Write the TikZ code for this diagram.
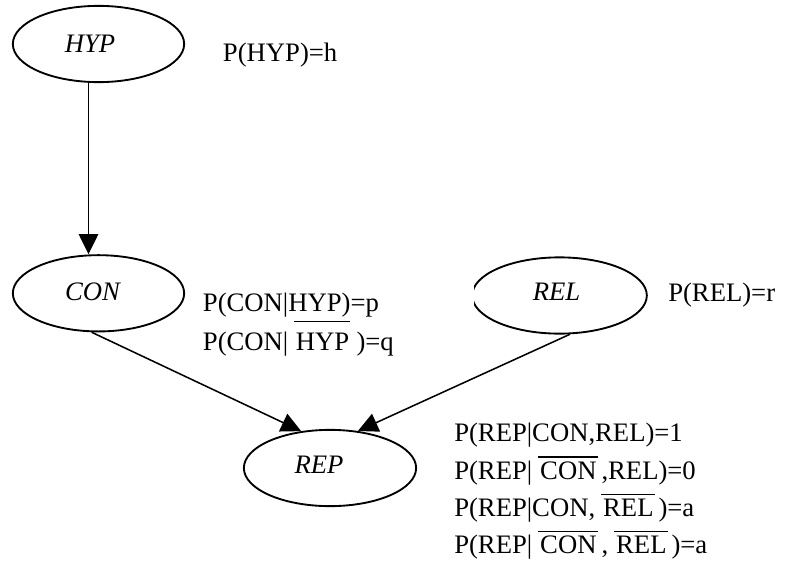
\documentclass[tikz,border=0pt]{standalone}
\usepackage{fontspec}
\setmainfont{Liberation Serif}
\usetikzlibrary{shapes.geometric,arrows.meta}

% \ovbar{kern before}{text}{kern after}{height of the bar above the baseline}
\newcommand\ovbar[4]{\kern#1\setbox0=\hbox{\kern1.5pt#2\kern1pt}%
  \rlap{\raise#4\hbox{\vrule width\wd0 height 0.8pt depth 0pt}}\box0\kern#3\relax}
\newcommand\negrep[1]{\ovbar{4.5pt}{#1}{2.75pt}{16.1pt}}

\begin{document}
\begin{tikzpicture}[x=0.75pt,y=-0.75pt,
  var/.style={ellipse,draw,line width=1.4pt,minimum width=128.5pt,
    minimum height=57.2pt,inner sep=0pt},
  varname/.style={font=\fontsize{20}{24}\selectfont\itshape,inner sep=0pt,anchor=base},
  prob/.style={font=\fontsize{20}{24}\selectfont,inner sep=0pt,anchor=base west},
  conn/.style={line width=1.15pt,-{Triangle[length=15pt,width=14.5pt]}}]

\useasboundingbox (0,0) rectangle (796,571);

% variables of the network
\node[var] (hyp) at (98.5,44) {};
\node[var] (con) at (98.5,293.3) {};
\begin{scope}
  \clip (474,0) rectangle (796,571);
  \node[var,minimum width=131pt] (rel) at (559.5,295.5) {};
\end{scope}
\node[var,minimum width=129.2pt] (rep) at (330,468) {};

\node[varname] (hyp-name) at (90,52) {HYP};
\node[varname] (con-name) at (92.5,300) {CON};
\node[varname] (rel-name) at (556.5,300.5) {REL};
\node[varname] (rep-name) at (319,473.3) {REP};

% dependencies
\draw[conn] ([xshift=-7.5pt]hyp.south) -- ([xshift=-7.5pt]con.north);
\draw[conn] (con.260) -- (rep.128);
\draw[conn] (rel.285.5) -- (rep.53);

% probability tables
\node[prob] (hyp-p) at (222.7,61.7) {P(HYP)=h};
\node[prob] (con-p1) at (202.7,311.7) {P(CON|HYP)=p};
\node[prob] (con-p2) at (202.7,350) {P(CON|\ovbar{4.1pt}{HYP}{4.6pt}{21.2pt})=q};
\node[prob] (rel-p) at (668,301.7) {P(REL)=r};
\node[prob] (rep-p1) at (454,441.7) {P(REP|CON,REL)=1};
\node[prob] (rep-p2) at (454,479) {P(REP|\negrep{CON},REL)=0};
\node[prob] (rep-p3) at (454,516.3) {P(REP|CON,\negrep{REL})=a};
\node[prob] (rep-p4) at (454,553.6) {P(REP|\negrep{CON},\negrep{REL})=a};
\end{tikzpicture}
\end{document}
